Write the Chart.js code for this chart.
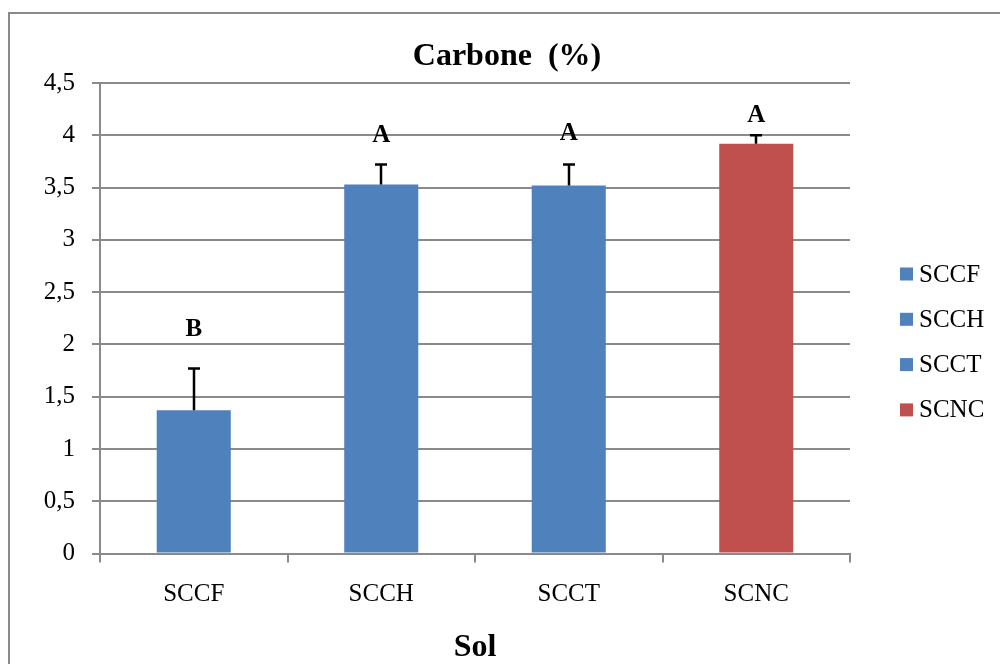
<!DOCTYPE html>
<html>
<head>
<meta charset="utf-8">
<script src="https://cdn.jsdelivr.net/npm/chart.js@4"></script>
<style>
  html, body { margin: 0; padding: 0; background: #fff; }
  #wrap { position: relative; width: 1000px; height: 664px; }
</style>
</head>
<body>
<div id="wrap"><canvas id="chart" width="1000" height="664"></canvas></div>
<script>
  'use strict';

  const categories = ['SCCF', 'SCCH', 'SCCT', 'SCNC'];
  const carbone = [1.37, 3.53, 3.52, 3.92];
  const errUp = [0.40, 0.19, 0.20, 0.08];
  const letters = ['B', 'A', 'A', 'A'];
  const letterY = [2.14, 4.0, 4.02, 4.19];
  const barColors = ['#4F81BD', '#4F81BD', '#4F81BD', '#C0504D'];
  const yTickLabels = ['0', '0,5', '1', '1,5', '2', '2,5', '3', '3,5', '4', '4,5'];
  const chartTitle = 'Carbone  (%)';

  const SERIF = "'Times New Roman', 'Liberation Serif', serif";
  const GRID = '#8a8a8a';

  // frame, title, error bars, significance letters and the side legend
  const extras = {
    id: 'extras',
    beforeDraw(chart) {
      const ctx = chart.ctx;
      ctx.save();
      ctx.strokeStyle = GRID;
      ctx.lineWidth = 2;
      ctx.strokeRect(9, 13, 1000, 700);
      ctx.fillStyle = '#000';
      ctx.font = 'bold 32px ' + SERIF;
      ctx.textAlign = 'center';
      ctx.textBaseline = 'middle';
      ctx.fillText(chartTitle, 507, 57);
      ctx.restore();
    },
    afterDatasetsDraw(chart) {
      const { ctx, scales: { x, y } } = chart;
      ctx.save();
      ctx.strokeStyle = '#000';
      ctx.lineWidth = 2.5;
      carbone.forEach((v, i) => {
        const px = Math.round(x.getPixelForValue(i));
        const base = y.getPixelForValue(v);
        const top = y.getPixelForValue(v + errUp[i]);
        ctx.beginPath();
        ctx.moveTo(px, base);
        ctx.lineTo(px, top);
        ctx.moveTo(px - 6, top);
        ctx.lineTo(px + 6, top);
        ctx.stroke();
      });

      ctx.fillStyle = '#000';
      ctx.font = 'bold 25px ' + SERIF;
      ctx.textAlign = 'center';
      ctx.textBaseline = 'middle';
      letters.forEach((t, i) => {
        ctx.fillText(t, x.getPixelForValue(i), y.getPixelForValue(letterY[i]));
      });

      ctx.font = '25px ' + SERIF;
      ctx.textAlign = 'left';
      categories.forEach((c, i) => {
        const cy = 274 + i * 45.3;
        ctx.fillStyle = barColors[i];
        ctx.fillRect(900, cy - 6.5, 13, 13);
        ctx.fillStyle = '#000';
        ctx.fillText(c, 919, cy + 1);
      });
      ctx.restore();
    }
  };

  new Chart(document.getElementById('chart'), {
    type: 'bar',
    data: {
      labels: categories,
      datasets: [{
        label: 'Carbone',
        data: carbone,
        backgroundColor: barColors,
        borderWidth: 0,
        barPercentage: 0.395,
        categoryPercentage: 1,
      }],
    },
    options: {
      responsive: false,
      animation: false,
      devicePixelRatio: 1,
      layout: { padding: { left: 0, right: 150, top: 83, bottom: 0 } },
      plugins: {
        legend: { display: false },
        tooltip: { enabled: false },
        title: { display: false },
      },
      scales: {
        x: {
          offset: true,
          grid: { offset: true, drawOnChartArea: false, color: GRID, lineWidth: 2, tickLength: 9 },
          border: { color: GRID, width: 2 },
          ticks: { color: '#000', font: { family: SERIF, size: 25 }, padding: 17, maxRotation: 0 },
          title: {
            display: true,
            text: 'Sol',
            color: '#000',
            font: { family: SERIF, size: 32, weight: 'bold' },
            padding: { top: 2, bottom: -3 },
          },
        },
        y: {
          min: 0,
          max: 4.5,
          afterFit(scale) { scale.width = 100; },
          grid: { color: GRID, lineWidth: 2, tickLength: 8 },
          border: { color: GRID, width: 2 },
          ticks: {
            stepSize: 0.5,
            color: '#000',
            font: { family: SERIF, size: 25 },
            padding: 17,
            callback: (v, i) => yTickLabels[i],
          },
        },
      },
    },
    plugins: [extras],
  });
</script>
</body>
</html>
